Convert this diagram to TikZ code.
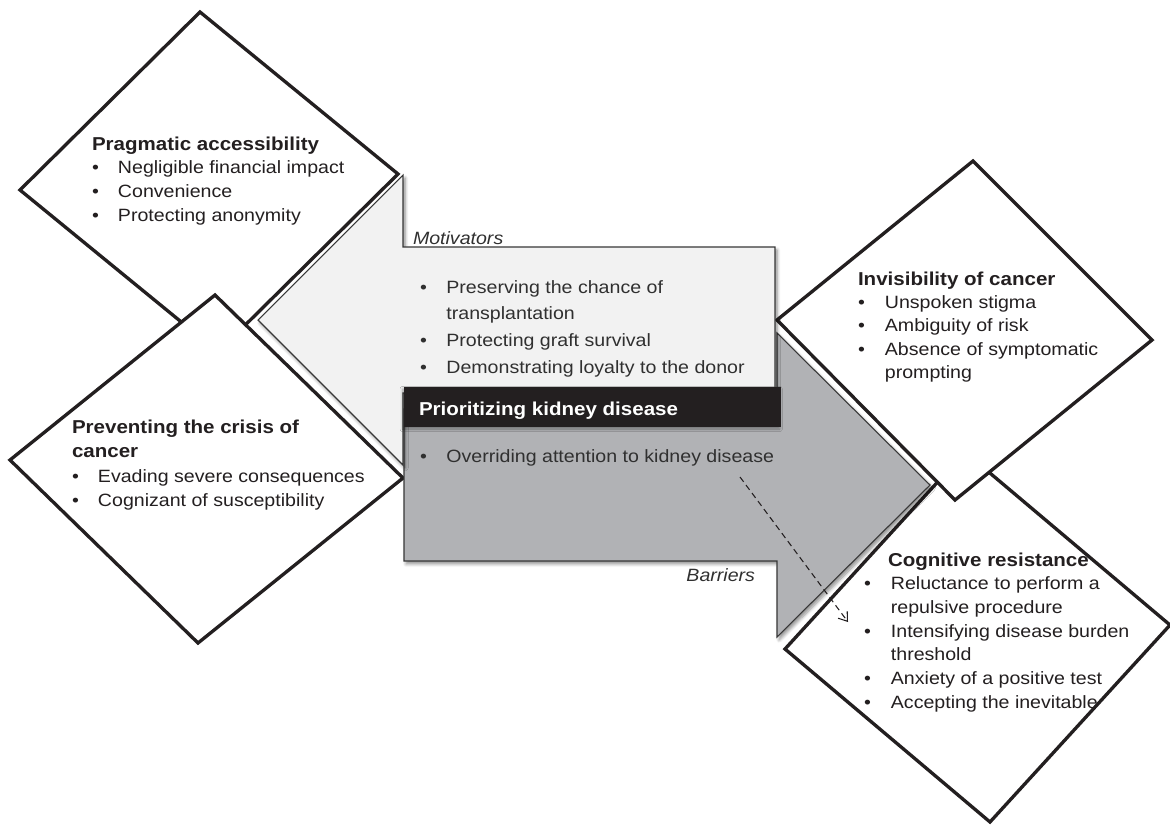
\documentclass[tikz,border=0pt]{standalone}
\usepackage{fontspec}
\setmainfont{Liberation Sans}[FakeStretch=1.1]
\usepackage{array}
\usetikzlibrary{arrows.meta,shadows.blur}

\definecolor{ink}{HTML}{231F20}
\definecolor{lightfill}{HTML}{F2F2F2}
\definecolor{darkfill}{HTML}{B1B2B5}
\definecolor{edgegrey}{HTML}{383838}
\definecolor{bodygrey}{HTML}{303030}

\newcommand{\bodyfont}{\fontsize{13.35pt}{17.8pt}\selectfont}
\newcommand{\arrowfont}{\fontsize{13.35pt}{20pt}\selectfont}
\newcommand{\headfont}{\fontsize{14pt}{17.8pt}\selectfont\bfseries}

\tikzset{
  diam/.style={draw=ink, line width=2.5pt, fill=white, line join=miter},
  arrowshape/.style={draw=edgegrey, line width=0.8pt, line join=miter,
    blur shadow={shadow xshift=1.6pt, shadow yshift=-2.2pt,
      shadow blur radius=2.4pt, shadow blur steps=6, shadow opacity=45}},
  txt/.style={inner sep=0pt, outer sep=0pt, text=ink, anchor=base west},
  arrowtxt/.style={inner sep=0pt, outer sep=0pt, text=bodygrey, anchor=base west},
  link/.style={draw=ink, line width=0.8pt, dash pattern=on 4.5pt off 3pt,
    -{Straight Barb[length=6pt,width=8.5pt,line width=0.8pt]}}
}

\begin{document}
\begin{tikzpicture}[x=0.75pt,y=-0.75pt]
\useasboundingbox (0,0) rectangle (1170,825);

% left pair of diamonds (lower one overlaps upper one)
\draw[diam] (200,12) -- (398,174) -- (218,352) -- (20,190) -- cycle;
\draw[diam] (215,295) -- (403,478) -- (198,643) -- (10,460) -- cycle;

% right pair of diamonds (upper one overlaps lower one)
\draw[diam] (965,452) -- (1170,625) -- (990,822) -- (785,649) -- cycle;
\draw[diam] (973,161) -- (1152,340) -- (955,500) -- (777,320) -- cycle;

% barriers arrow, pointing right
\draw[arrowshape, fill=darkfill]
  (404,409) -- (777,409) -- (777,333) -- (930,485) -- (777,637)
  -- (777,561) -- (404,561) -- cycle;

% motivators arrow, pointing left
\draw[arrowshape, fill=lightfill]
  (775,247) -- (775,393) -- (403,393) -- (403,465) -- (258,320)
  -- (403,175) -- (403,247) -- cycle;

% central theme band
\fill[ink, blur shadow={shadow xshift=-1pt, shadow yshift=-1.5pt,
      shadow blur radius=2pt, shadow opacity=35}]
  (404,387) rectangle (781,427);
\node[txt, text=white] (core) at (419,415)
  {\headfont Prioritizing kidney disease};

% arrow labels
\node[txt, text=bodygrey] (motiv) at (413,244)
  {\bodyfont\itshape Motivators};
\node[txt, text=bodygrey, anchor=base east] (barr) at (755,581)
  {\bodyfont\itshape Barriers};

% motivators list
\node[arrowtxt] (mlist) at (420,293) {\arrowfont
  \begin{tabular}[t]{@{}p{19.8pt}@{}l@{}}
  \textbullet & Preserving the chance of\\
              & transplantation\\
  \textbullet & Protecting graft survival\\
  \textbullet & Demonstrating loyalty to the donor
  \end{tabular}};

% barriers list
\node[arrowtxt] (blist) at (420,462) {\arrowfont
  \begin{tabular}[t]{@{}p{19.8pt}@{}l@{}}
  \textbullet & Overriding attention to kidney disease
  \end{tabular}};

% diamond texts
\node[txt] (prag) at (92,150) {\bodyfont
  \begin{tabular}[t]{@{}p{19.5pt}@{}l@{}}
  \multicolumn{2}{@{}l@{}}{\headfont Pragmatic accessibility}\\
  \textbullet & Negligible financial impact\\
  \textbullet & Convenience\\
  \textbullet & Protecting anonymity
  \end{tabular}};

\node[txt] (prev) at (72,433) {\fontsize{13.35pt}{18.4pt}\selectfont
  \begin{tabular}[t]{@{}p{19.5pt}@{}l@{}}
  \multicolumn{2}{@{}l@{}}{\headfont Preventing the crisis of}\\
  \multicolumn{2}{@{}l@{}}{\headfont cancer}\\
  \textbullet & Evading severe consequences\\
  \textbullet & Cognizant of susceptibility
  \end{tabular}};

\node[txt] (invis) at (858,285) {\fontsize{13.35pt}{17.5pt}\selectfont
  \begin{tabular}[t]{@{}p{20.2pt}@{}l@{}}
  \multicolumn{2}{@{}l@{}}{\headfont Invisibility of cancer}\\
  \textbullet & Unspoken stigma\\
  \textbullet & Ambiguity of risk\\
  \textbullet & Absence of symptomatic\\
              & prompting
  \end{tabular}};

\node[txt] (cogn) at (864,566) {\bodyfont
  \begin{tabular}[t]{@{}p{20.2pt}@{}l@{}}
  \multicolumn{2}{@{\hspace{18pt}}l@{}}{\headfont Cognitive resistance}\\
  \textbullet & Reluctance to perform a\\
              & repulsive procedure\\
  \textbullet & Intensifying disease burden\\
              & threshold\\
  \textbullet & Anxiety of a positive test\\
  \textbullet & Accepting the inevitable
  \end{tabular}};

% dashed link from the barrier item to cognitive resistance
\coordinate (ds) at (740,477);
\coordinate (de) at (848,622);
\draw[link] (ds) -- (de);
\end{tikzpicture}
\end{document}
